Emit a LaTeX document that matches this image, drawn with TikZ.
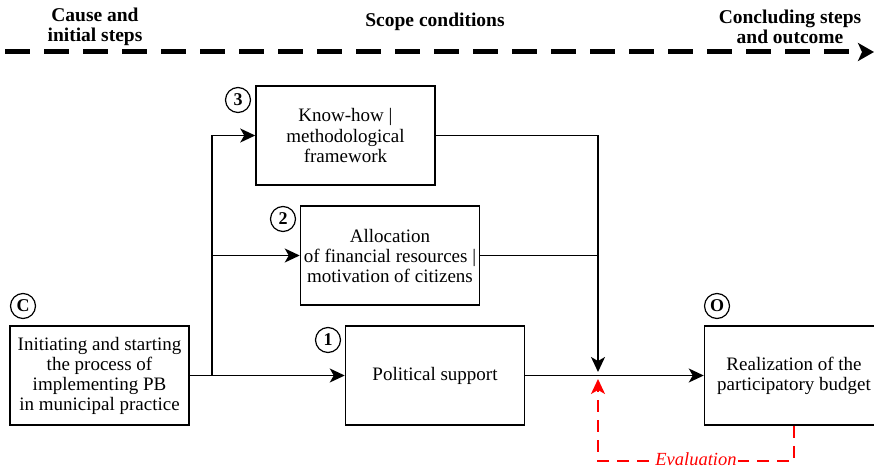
\documentclass[tikz,border=0pt]{standalone}
\usepackage{fontspec}
\setmainfont{Liberation Serif}
\usetikzlibrary{arrows.meta}

\tikzset{
	stage/.style={draw, line width=1.5pt, minimum width=179pt, minimum height=99pt, inner sep=0pt, align=center, font=\fontsize{19}{20}\selectfont},
	badge/.style={draw, circle, line width=1.2pt, minimum size=25pt, inner sep=0pt, font=\bfseries\fontsize{18}{18}\selectfont},
	heading/.style={align=center, font=\bfseries\fontsize{19.5}{20}\selectfont},
	link/.style={line width=1.5pt, -{Stealth[length=15pt,width=14pt,inset=4pt]}},
	feedback/.style={red, line width=1.5pt, dash pattern=on 12pt off 8pt, -{Stealth[length=15pt,width=14pt,inset=4pt]}}
}

\begin{document}
\begin{tikzpicture}[x=1pt,y=-1pt]
	\useasboundingbox (0,0) rectangle (874,468);
	\clip (0,0) rectangle (874,468);

	% header
	\node[heading] (hcause) at (95,27) {Cause and\\initial steps};
	\node[heading] (hscope) at (435,22) {Scope conditions};
	\node[heading] (hend) at (790,27) {Concluding steps\\and outcome};
	\coordinate (tl) at (5,52);
	\coordinate (tr) at (874,52);
	\draw[line width=5pt, dash pattern=on 25pt off 14pt, -{Stealth[length=16pt,width=18pt,inset=4pt]}] (tl) -- (tr);

	% boxes
	\node[stage] (cause) at (99.5,375.5) {Initiating and starting\\the process of\\implementing PB\\in municipal practice};
	\node[stage] (know) at (345.5,135.5) {Know-how |\\methodological\\framework};
	\node[stage] (money) at (390,255.5) {Allocation\\of financial resources |\\motivation of citizens};
	\node[stage] (polit) at (435,375.5) {Political support};
	\node[stage] (outc) at (794,375.5) {Realization of the\\participatory budget};

	\node[badge] (bc) at (23,306) {C};
	\node[badge] (b3) at (238,100) {3};
	\node[badge] (b2) at (283,219) {2};
	\node[badge] (b1) at (328,340) {1};
	\node[badge] (bo) at (717,306) {O};

	% connectors
	\coordinate (split) at (212,375.5);
	\coordinate (merge) at (598,375.5);
	\coordinate (mdown) at (598,372);
	\coordinate (mup) at (598,379);
	\draw[link] (cause.east) -- (polit.west);
	\draw[link] (split) |- (know.west);
	\draw[link] (split) |- (money.west);
	\draw[link] (know.east) -| (mdown);
	\draw[line width=1.5pt] (money.east) -- (money.east -| merge);
	\draw[link] (polit.east) -- (outc.west);
	\draw[feedback] (outc.south) -- ++(0,35) -| node[pos=0.25, fill=white, inner sep=1pt, yshift=2pt, font=\itshape\fontsize{18.5}{20}\selectfont]{Evaluation} (mup);
\end{tikzpicture}
\end{document}
